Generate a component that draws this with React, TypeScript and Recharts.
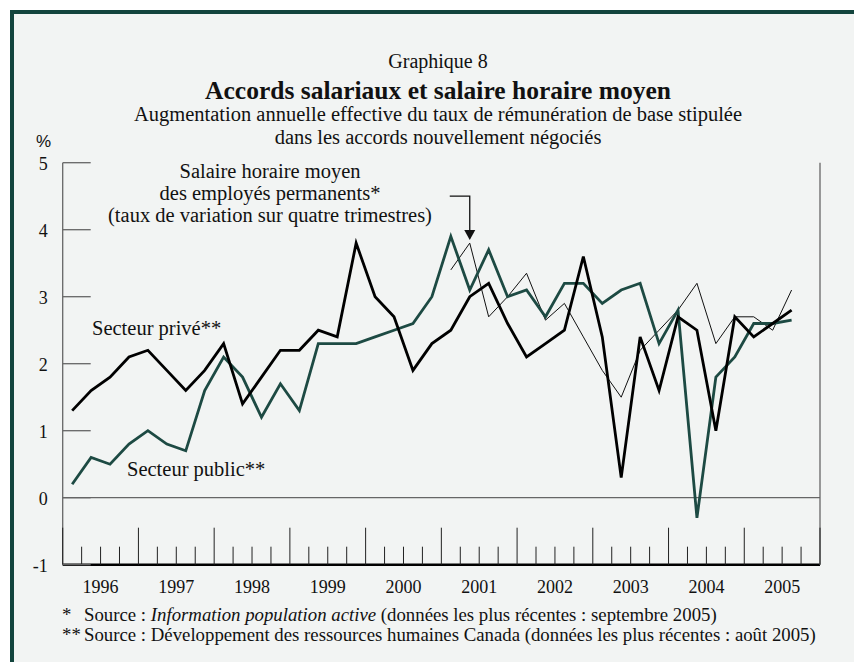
import React from "react";
import { LineChart, Line, XAxis, YAxis, ReferenceLine, ReferenceDot } from "recharts";

// quarterly values, 1996T1 .. 2005T3
const prive = [1.3, 1.6, 1.8, 2.1, 2.2, 1.9, 1.6, 1.9, 2.3, 1.4, 1.8, 2.2, 2.2, 2.5, 2.4, 3.8, 3.0, 2.7, 1.9, 2.3,
    2.5, 3.0, 3.2, 2.6, 2.1, 2.3, 2.5, 3.6, 2.4, 0.3, 2.4, 1.6, 2.7, 2.5, 1.0, 2.7, 2.4, 2.6, 2.8];
const publicSector = [0.2, 0.6, 0.5, 0.8, 1.0, 0.8, 0.7, 1.6, 2.1, 1.8, 1.2, 1.7, 1.3, 2.3, 2.3, 2.3, 2.4, 2.5, 2.6, 3.0,
    3.9, 3.1, 3.7, 3.0, 3.1, 2.7, 3.2, 3.2, 2.9, 3.1, 3.2, 2.3, 2.8, -0.3, 1.8, 2.1, 2.6, 2.6, 2.65];
// salaire horaire moyen, starts at 2001T1 (quarter index 20)
const salaireStart = 20;
const salaire = [3.4, 3.8, 2.7, 3.0, 3.35, 2.65, 2.9, 2.4, 1.9, 1.5, 2.2, 2.5, 2.8, 3.2, 2.3, 2.7, 2.7, 2.5, 3.1];
const years = [1996, 1997, 1998, 1999, 2000, 2001, 2002, 2003, 2004, 2005];
const yTicks = [-1, 0, 1, 2, 3, 4, 5];

const quarterTicks = Array.from({ length: years.length * 4 + 1 }, (_, i) => i);

const data = prive.map((v, i) => ({
    q: i + 0.5,
    prive: v,
    public: publicSector[i],
    salaire: i >= salaireStart ? salaire[i - salaireStart] : null,
}));

const SERIF = "'Liberation Serif', 'Times New Roman', serif";
const TEAL = "#1d4a43";
const FRAME = "#13443d";

const LeftTick = (props: any) => {
    const { x, y, payload } = props;
    return (
        <g>
            <line x1={x} y1={y} x2={x + 28} y2={y} stroke="#666" strokeWidth={1.3} />
            <text x={x - 15} y={y + 7} textAnchor="end" fontFamily={SERIF} fontSize={18} fill="#111">
                {payload.value}
            </text>
        </g>
    );
};

const RightTick = (props: any) => {
    const { x, y, payload } = props;
    return (
        <g>
            <line x1={x - 28} y1={y} x2={x} y2={y} stroke="#666" strokeWidth={1.3} />
            <text x={x + 28} y={y + 7} textAnchor="end" fontFamily={SERIF} fontSize={18} fill="#111">
                {payload.value}
            </text>
        </g>
    );
};

const QuarterTick = (props: any) => {
    const { x, y, payload } = props;
    const i = payload.value;
    const len = i % 4 === 0 ? 37 : 18;
    return (
        <g>
            <line x1={x} y1={y} x2={x} y2={y - len} stroke="#222" strokeWidth={1} />
            {i % 4 === 2 && (
                <text x={x} y={y + 28} textAnchor="middle" fontFamily={SERIF} fontSize={18} fill="#111">
                    {years[(i - 2) / 4]}
                </text>
            )}
        </g>
    );
};

const Arrow = (props: any) => {
    const { cx, cy } = props;
    const tip = cy - 3;
    return (
        <g>
            <polyline points={`${cx - 20},${tip - 44} ${cx},${tip - 44} ${cx},${tip - 9}`} fill="none" stroke="#111" strokeWidth={1.3} />
            <polygon points={`${cx - 5.5},${tip - 10} ${cx + 5.5},${tip - 10} ${cx},${tip}`} fill="#111" />
        </g>
    );
};

const App: React.FC = () => {
    return (
        <div style={{ position: "absolute", left: 0, top: 0, width: 854, height: 662, background: "#fff", overflow: "hidden" }}>
            <div
                style={{
                    position: "absolute", left: 10, top: 10, width: 844, height: 652, boxSizing: "border-box",
                    background: "#f2f4f3", borderTop: `4px solid ${FRAME}`, borderLeft: `4px solid ${FRAME}`,
                }}
            />
            <div style={{ position: "absolute", left: 0, top: 0 }}>
                <LineChart width={854} height={662} data={data} margin={{ top: 162.7, right: 4, bottom: 67.3, left: 22.7 }}>
                    <XAxis
                        dataKey="q"
                        type="number"
                        domain={[0, 40]}
                        ticks={quarterTicks}
                        interval={0}
                        height={30}
                        tickSize={0}
                        tickMargin={0}
                        tick={<QuarterTick />}
                        axisLine={{ stroke: "#000", strokeWidth: 2.5 }}
                    />
                    <YAxis
                        yAxisId="left"
                        orientation="left"
                        width={40}
                        domain={[-1, 5]}
                        ticks={yTicks}
                        interval={0}
                        tickSize={0}
                        tickMargin={0}
                        tick={<LeftTick />}
                        axisLine={{ stroke: "#666", strokeWidth: 1.3 }}
                    />
                    <YAxis
                        yAxisId="right"
                        orientation="right"
                        width={30}
                        domain={[-1, 5]}
                        ticks={yTicks}
                        interval={0}
                        tickSize={0}
                        tickMargin={0}
                        tick={<RightTick />}
                        axisLine={{ stroke: "#666", strokeWidth: 1.3 }}
                    />
                    <ReferenceLine yAxisId="left" y={0} stroke="#666" strokeWidth={1.3} />
                    <Line yAxisId="left" dataKey="salaire" stroke="#111" strokeWidth={1} dot={false} isAnimationActive={false} />
                    <Line yAxisId="left" dataKey="public" stroke={TEAL} strokeWidth={2.8} dot={false} isAnimationActive={false} />
                    <Line yAxisId="left" dataKey="prive" stroke="#000" strokeWidth={2.8} dot={false} isAnimationActive={false} />
                    <ReferenceDot yAxisId="left" x={data[21].q} y={salaire[1]} shape={<Arrow />} />
                </LineChart>
            </div>
            <svg width={854} height={662} style={{ position: "absolute", left: 0, top: 0, pointerEvents: "none" }}>
                <g fontFamily={SERIF} fill="#111" textAnchor="middle">
                    <text x={438} y={68} fontSize={20}>Graphique 8</text>
                    <text x={438} y={99} fontSize={25.5} fontWeight="bold">Accords salariaux et salaire horaire moyen</text>
                    <text x={438} y={121} fontSize={20.5}>Augmentation annuelle effective du taux de rémunération de base stipulée</text>
                    <text x={438} y={144} fontSize={20.5}>dans les accords nouvellement négociés</text>
                    <text x={270} y={178} fontSize={20.5}>Salaire horaire moyen</text>
                    <text x={270} y={200} fontSize={20.5}>des employés permanents*</text>
                    <text x={270} y={222} fontSize={20.5}>(taux de variation sur quatre trimestres)</text>
                </g>
                <text x={36} y={147} fontFamily="'Liberation Sans', Arial, sans-serif" fontSize={17} fill="#111">%</text>
                <g fontFamily={SERIF} fill="#111" fontSize={20.5}>
                    <text x={92} y={335}>Secteur privé**</text>
                    <text x={127} y={476}>Secteur public**</text>
                </g>
                <g fontFamily={SERIF} fill="#111" fontSize={18.8}>
                    <text x={62} y={621}>*</text>
                    <text x={84} y={621}>
                        Source : <tspan fontStyle="italic">Information population active</tspan> (données les plus récentes : septembre 2005)
                    </text>
                    <text x={62} y={641}>**</text>
                    <text x={84} y={641}>
                        Source : Développement des ressources humaines Canada (données les plus récentes : août 2005)
                    </text>
                </g>
            </svg>
        </div>
    );
};

export default App;
